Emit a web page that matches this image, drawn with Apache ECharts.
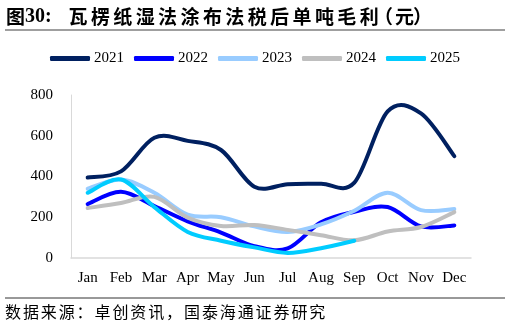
<!DOCTYPE html>
<html>
<head>
<meta charset="utf-8">
<script src="https://cdn.jsdelivr.net/npm/echarts@6/dist/echarts.min.js"></script>
<style>
html,body{margin:0;padding:0;background:#fff;}
#c{width:510px;height:325px;}
</style>
</head>
<body>
<div id="c"></div>
<script>
var months = ['Jan','Feb','Mar','Apr','May','Jun','Jul','Aug','Sep','Oct','Nov','Dec'];
var seriesNames = ['2021','2022','2023','2024','2025'];
var v2021 = [395, 425, 590, 575, 530, 350, 362, 365, 370, 720, 710, 500];
var v2022 = [265, 325, 255, 180, 125, 58, 47, 175, 227, 250, 155, 160];
var v2023 = [340, 385, 320, 213, 200, 155, 128, 165, 232, 320, 235, 240];
var v2024 = [245, 270, 300, 198, 157, 162, 138, 112, 87, 130, 152, 225];
var v2025 = [320, 385, 250, 128, 85, 52, 25, 48, 85, null, null, null];
var yTicks = [0, 200, 400, 600, 800];
var titleNum = '图';
var titleNum2 = '30:';
var titleText = '瓦楞纸湿法涂布法税后单吨毛利';
var titleUnit = ['（', '元', '）'];
var sourceText = '数据来源：卓创资讯，国泰海通证券研究';

var colors = ['#002060', '#0000FF', '#99CCFF', '#BFBFBF', '#00CCFF'];
var allData = [v2021, v2022, v2023, v2024, v2025];
var serif = "'Liberation Serif', 'Times New Roman', serif";
var cjk = "'Noto Sans CJK SC', sans-serif";

// Excel-like smoothed line (Catmull-Rom through every data point, via axis coords)
function makeRenderer(values) {
  return function (params, api) {
    if (params.dataIndex !== 0) return null;
    var pts = [];
    for (var i = 0; i < values.length; i++) {
      if (values[i] != null) pts.push(api.coord([i, values[i]]));
    }
    var d = 'M' + pts[0][0] + ' ' + pts[0][1];
    for (var k = 0; k < pts.length - 1; k++) {
      var p0 = pts[k - 1] || pts[k];
      var p1 = pts[k];
      var p2 = pts[k + 1];
      var p3 = pts[k + 2] || pts[k + 1];
      var c1x = p1[0] + (p2[0] - p0[0]) / 6;
      var c1y = p1[1] + (p2[1] - p0[1]) / 6;
      var c2x = p2[0] - (p3[0] - p1[0]) / 6;
      var c2y = p2[1] - (p3[1] - p1[1]) / 6;
      d += ' C' + c1x + ' ' + c1y + ' ' + c2x + ' ' + c2y + ' ' + p2[0] + ' ' + p2[1];
    }
    return {
      type: 'path',
      shape: {pathData: d},
      style: {fill: null, stroke: api.visual('color'), lineWidth: 4, lineCap: 'round', lineJoin: 'round'}
    };
  };
}

var graphics = [
  {type: 'text', left: 6, top: 7, style: {text: titleNum, font: 'bold 19px ' + cjk, fill: '#000'}},
  {type: 'text', left: 25, top: 7, style: {text: titleNum2, font: 'bold 20px ' + serif, fill: '#000'}},
  {type: 'line', shape: {x1: 5, y1: 30, x2: 505, y2: 30}, style: {stroke: '#7F7F7F', lineWidth: 1.3}},
  {type: 'line', shape: {x1: 5, y1: 298, x2: 505, y2: 298}, style: {stroke: '#333', lineWidth: 1}}
];
titleText.split('').forEach(function (ch, i) {
  graphics.push({type: 'text', x: 68.5 + i * 22.4, y: 7, style: {text: ch, font: 'bold 19px ' + cjk, fill: '#000'}});
});
var unitX = [374, 395, 413];
titleUnit.forEach(function (ch, i) {
  graphics.push({type: 'text', x: unitX[i], y: 7, style: {text: ch, font: 'bold 19px ' + cjk, fill: '#000'}});
});
sourceText.split('').forEach(function (ch, i) {
  graphics.push({type: 'text', x: 5 + i * 17.9, y: 304, style: {text: ch, font: '16px ' + cjk, fill: '#000'}});
});

var chart = echarts.init(document.getElementById('c'));
chart.setOption({
  animation: false,
  backgroundColor: '#ffffff',
  grid: {left: 71, right: 39, top: 95, bottom: 67},
  legend: {
    data: seriesNames,
    left: 50,
    top: 51,
    padding: 0,
    icon: 'roundRect',
    itemWidth: 40,
    itemHeight: 5,
    itemGap: 10,
    textStyle: {fontFamily: serif, fontSize: 15, color: '#000', padding: [0,0,0,-1]}
  },
  xAxis: {
    type: 'category',
    data: months,
    boundaryGap: true,
    axisLine: {show: true, lineStyle: {color: '#D9D9D9', width: 1.5}},
    axisTick: {show: false},
    axisLabel: {fontFamily: serif, fontSize: 15, color: '#000', margin: 13, interval: 0}
  },
  yAxis: {
    type: 'value',
    min: yTicks[0],
    max: yTicks[yTicks.length - 1],
    interval: yTicks[1] - yTicks[0],
    axisLine: {show: true, lineStyle: {color: '#D9D9D9', width: 1}},
    axisTick: {show: false},
    splitLine: {show: false},
    axisLabel: {fontFamily: serif, fontSize: 15, color: '#000', margin: 18}
  },
  series: allData.map(function (d, i) {
    return {
      name: seriesNames[i],
      type: 'custom',
      renderItem: makeRenderer(d),
      data: d.map(function (v, k) { return [k, v]; }).filter(function (p) { return p[1] != null; }),
      encode: {x: 0, y: 1},
      clip: false,
      itemStyle: {color: colors[i]}
    };
  }),
  graphic: graphics
});
</script>
</body>
</html>
